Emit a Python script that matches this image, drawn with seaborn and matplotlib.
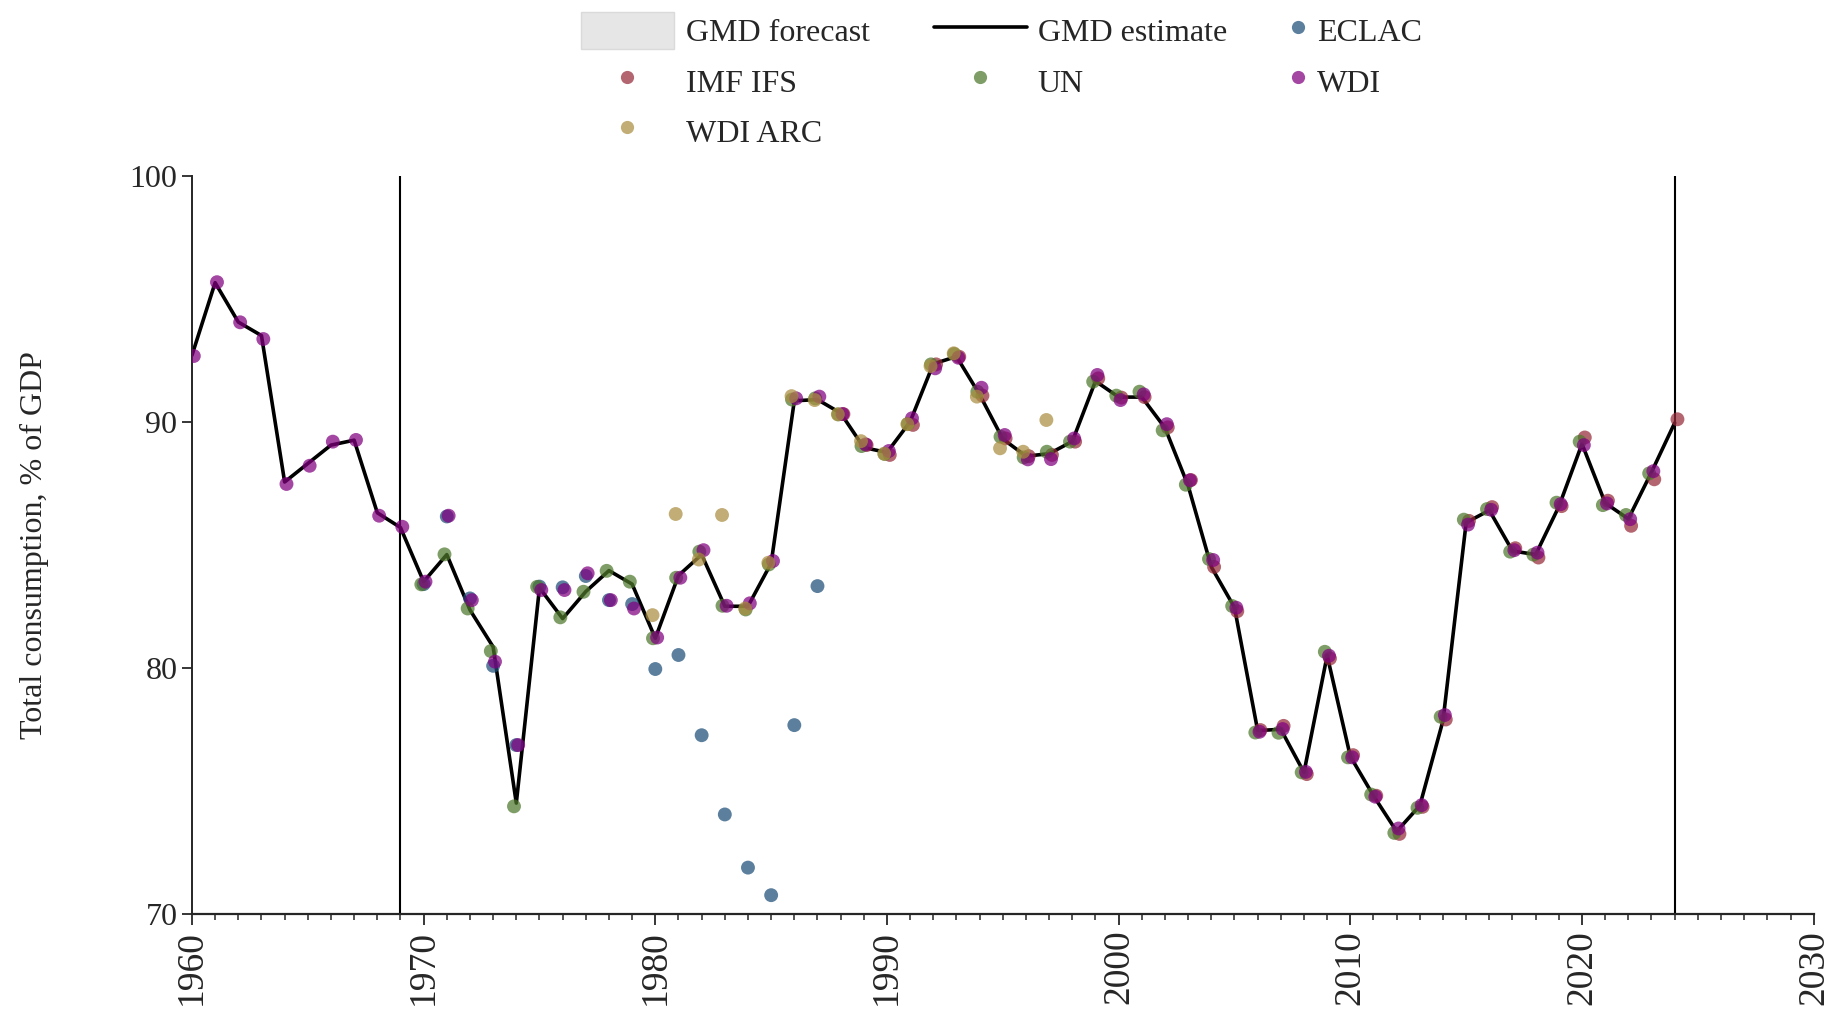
import matplotlib.pyplot as plt
import seaborn as sns
import pandas as pd
import numpy as np
from matplotlib.lines import Line2D
from matplotlib.patches import Patch
from matplotlib.ticker import MultipleLocator

# ---- data ----
years_gmd = list(range(1960, 2025))
gmd_estimate = [92.7, 95.65, 94.05, 93.5, 87.55, 88.3, 89.05, 89.25, 86.3, 85.7,
                83.5, 84.6, 82.35, 80.85, 74.5, 83.25, 82.0, 83.1, 83.95, 83.4,
                81.2, 83.75, 84.6, 82.5, 82.5, 84.25, 90.85, 90.9, 90.35, 88.95,
                88.75, 90.0, 92.35, 92.65, 91.1, 89.3, 88.6, 88.7, 89.2, 91.65,
                91.0, 91.0, 89.75, 87.4, 84.1, 82.45, 77.45, 77.5, 75.75, 80.5,
                76.4, 74.8, 73.35, 74.4, 77.85, 85.9, 86.4, 84.75, 84.6, 86.55,
                89.1, 86.7, 86.05, 87.95, 89.95]

years_eclac = list(range(1970, 1988))
eclac = [83.4, 86.15, 82.82, 80.08, 76.86, 83.3, 83.27, 83.73, 82.75, 82.59,
         79.95, 80.52, 77.26, 74.04, 71.88, 70.76, 77.67, 83.32]

years_imf = list(range(1988, 2025))
imf_ifs = [90.31, 89.05, 88.65, 89.87, 92.33, 92.64, 91.06, 89.32, 88.6, 88.65,
           89.19, 91.76, 90.98, 91.0, 89.77, 87.63, 84.1, 82.3, 77.47, 77.64,
           75.68, 80.38, 76.45, 74.8, 73.25, 74.35, 77.9, 85.97, 86.53, 84.86,
           84.48, 86.57, 89.36, 86.79, 85.77, 87.66, 90.1]

years_un = list(range(1970, 2024))
un = [83.39, 84.61, 82.41, 80.68, 74.37, 83.29, 82.05, 83.09, 83.94, 83.5,
      81.2, 83.66, 84.72, 82.52, 82.37, 84.2, 90.9, 90.95, 90.3, 89.01,
      88.69, 89.91, 92.33, 92.75, 91.22, 89.39, 88.55, 88.78, 89.19, 91.63,
      91.06, 91.22, 89.65, 87.44, 84.42, 82.51, 77.37, 77.36, 75.75, 80.65,
      76.36, 74.85, 73.29, 74.31, 78.01, 86.02, 86.45, 84.72, 84.6, 86.71,
      89.19, 86.61, 86.21, 87.9]

years_wdi = list(range(1960, 2024))
wdi = [92.67, 95.67, 94.04, 93.36, 87.47, 88.21, 89.19, 89.26, 86.18, 85.73,
       83.5, 86.18, 82.75, 80.25, 76.86, 83.16, 83.16, 83.84, 82.75, 82.41,
       81.23, 83.66, 84.78, 82.52, 82.62, 84.34, 90.95, 91.02, 90.31, 89.08,
       88.81, 90.14, 92.17, 92.6, 91.38, 89.46, 88.47, 88.48, 89.32, 91.9,
       90.88, 91.11, 89.9, 87.62, 84.38, 82.44, 77.4, 77.51, 75.77, 80.49,
       76.36, 74.76, 73.47, 74.42, 78.08, 85.82, 86.42, 84.78, 84.68, 86.65,
       89.05, 86.68, 86.04, 87.99]

years_arc = list(range(1980, 1998))
wdi_arc = [82.14, 86.25, 84.4, 86.21, 82.41, 84.27, 91.04, 90.88, 90.3, 89.21,
           88.7, 89.9, 92.26, 92.78, 91.02, 88.92, 88.78, 90.07]

colors = {'ECLAC': '#1c4e78', 'IMF IFS': '#962b39', 'UN': '#4e782b',
          'WDI': '#800080', 'WDI ARC': '#aa8e40'}
# small horizontal dodge so overlapping sources stay visible
dodge = {'ECLAC': 0.0, 'IMF IFS': 0.12, 'UN': -0.1, 'WDI': 0.08, 'WDI ARC': -0.12}

parts = []
for name, yrs, vals in [('ECLAC', years_eclac, eclac), ('IMF IFS', years_imf, imf_ifs),
                        ('UN', years_un, un), ('WDI', years_wdi, wdi),
                        ('WDI ARC', years_arc, wdi_arc)]:
    parts.append(pd.DataFrame({'year': yrs, 'value': vals, 'source': name}))
df_pts = pd.concat(parts, ignore_index=True)
df_pts['x'] = df_pts['year'] + df_pts['source'].map(dodge)

df_gmd = pd.DataFrame({'year': years_gmd, 'value': gmd_estimate})

# ---- style ----
sns.set_theme(style="ticks")
plt.rcParams['font.family'] = ['Liberation Serif', 'DejaVu Serif']

fig = plt.figure(figsize=(18.37, 10.17), dpi=100)
ax = fig.add_axes([0.1045, 0.1014, 0.8828, 0.7259])

sns.lineplot(data=df_gmd, x='year', y='value', color='black', lw=2.6, ax=ax, zorder=2)
sns.scatterplot(data=df_pts, x='x', y='value', hue='source', palette=colors,
                s=100, alpha=0.72, edgecolor='none', legend=False, ax=ax, zorder=3)

ax.axvline(1969, color='black', lw=1.5, zorder=1)
ax.axvline(2024, color='black', lw=1.5, zorder=1)

ax.set_xlim(1960, 2030)
ax.set_ylim(70, 100)
ax.set_xticks(range(1960, 2031, 10))
ax.xaxis.set_minor_locator(MultipleLocator(1))
ax.set_yticks([70, 80, 90, 100])
ax.tick_params(axis='x', which='major', labelsize=27, rotation=90, length=8, width=1.3, direction='out')
ax.tick_params(axis='x', which='minor', length=4, width=1.1, direction='out')
ax.tick_params(axis='y', labelsize=23, length=7, width=1.3, direction='out')
for s in ['top', 'right']:
    ax.spines[s].set_visible(False)
ax.spines['bottom'].set_linewidth(1.6)
ax.spines['left'].set_linewidth(1.4)

ax.set_xlabel('')
ax.set_ylabel('Total consumption, % of GDP', fontsize=23)
ax.yaxis.set_label_coords(-0.088, 0.5)

# legend: three columns placed one by one
h_fc = Patch(facecolor='#e6e6e6', edgecolor='#dadada', label='GMD forecast')
h_est = Line2D([], [], color='black', lw=2.6, label='GMD estimate')
def dot(name):
    return Line2D([], [], ls='', marker='o', markersize=9.5, markeredgewidth=0,
                  color=colors[name], alpha=0.72, label=name)

leg_kw = dict(loc='upper left', frameon=False, fontsize=23, borderpad=0,
              borderaxespad=0, handleheight=1.4, labelspacing=0.42)
top = 0.988
fig.legend(handles=[h_fc, dot('IMF IFS'), dot('WDI ARC')], bbox_to_anchor=(0.3163, top),
           handlelength=2.9, handletextpad=0.37, **leg_kw)
fig.legend(handles=[h_est, dot('UN')], bbox_to_anchor=(0.5084, top),
           handlelength=2.9, handletextpad=0.35, **leg_kw)
fig.legend(handles=[dot('ECLAC'), dot('WDI')], bbox_to_anchor=(0.6996, top),
           handlelength=0.8, handletextpad=0.2, **leg_kw)

plt.savefig('out.png', dpi=100)
